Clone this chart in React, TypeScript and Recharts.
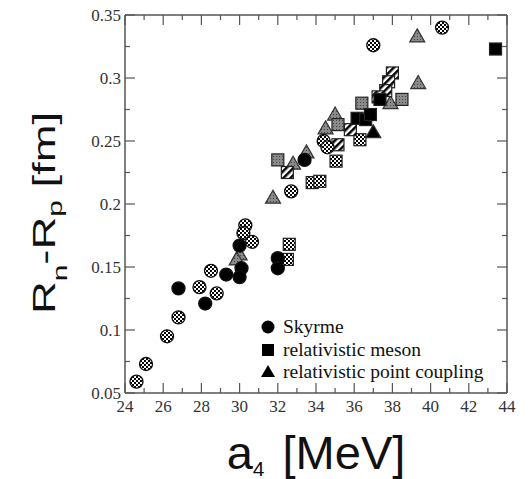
import React from 'react';
import { ScatterChart, Scatter, XAxis, YAxis, Legend, Label } from 'recharts';

const xTicks = [24, 25, 26, 27, 28, 29, 30, 31, 32, 33, 34, 35, 36, 37, 38, 39, 40, 41, 42, 43, 44];
const yTicks = [0.05, 0.075, 0.1, 0.125, 0.15, 0.175, 0.2, 0.225, 0.25, 0.275, 0.3, 0.325, 0.35];
const yTickLabels: Record<string, string> = {
  '0.05': '0.05', '0.1': '0.1', '0.15': '0.15', '0.2': '0.2', '0.25': '0.25', '0.3': '0.3', '0.35': '0.35',
};

// Skyrme
const skyrmeChecked = [
  { a4: 24.6, dr: 0.059 }, { a4: 25.1, dr: 0.073 }, { a4: 26.2, dr: 0.095 }, { a4: 26.8, dr: 0.11 },
  { a4: 27.9, dr: 0.134 }, { a4: 28.5, dr: 0.147 }, { a4: 28.8, dr: 0.129 }, { a4: 30.3, dr: 0.183 },
  { a4: 30.2, dr: 0.177 }, { a4: 30.65, dr: 0.17 }, { a4: 32.7, dr: 0.21 }, { a4: 34.4, dr: 0.25 },
  { a4: 34.6, dr: 0.245 }, { a4: 37.0, dr: 0.326 }, { a4: 40.6, dr: 0.34 },
];
const skyrmeSolid = [
  { a4: 26.8, dr: 0.133 }, { a4: 28.2, dr: 0.121 }, { a4: 29.3, dr: 0.144 }, { a4: 30.0, dr: 0.167 },
  { a4: 30.1, dr: 0.149 }, { a4: 30.0, dr: 0.142 }, { a4: 32.0, dr: 0.157 }, { a4: 32.0, dr: 0.149 },
  { a4: 33.4, dr: 0.235 },
];

// relativistic meson
const mesonGrey = [
  { a4: 32.0, dr: 0.235 }, { a4: 35.15, dr: 0.263 }, { a4: 36.4, dr: 0.28 }, { a4: 38.5, dr: 0.283 },
];
const mesonChecked = [
  { a4: 33.8, dr: 0.217 }, { a4: 34.2, dr: 0.218 }, { a4: 32.6, dr: 0.168 }, { a4: 32.5, dr: 0.156 },
  { a4: 35.05, dr: 0.234 }, { a4: 36.3, dr: 0.251 },
];
const mesonHatched = [
  { a4: 38.0, dr: 0.304 }, { a4: 37.8, dr: 0.297 }, { a4: 37.65, dr: 0.29 }, { a4: 37.25, dr: 0.285 },
  { a4: 35.15, dr: 0.247 }, { a4: 35.8, dr: 0.259 }, { a4: 32.5, dr: 0.225 },
];
const mesonSolid = [
  { a4: 43.4, dr: 0.323 }, { a4: 36.15, dr: 0.268 }, { a4: 36.6, dr: 0.267 }, { a4: 36.85, dr: 0.271 },
  { a4: 37.35, dr: 0.283 },
];

// relativistic point coupling
const pcGrey = [
  { a4: 39.3, dr: 0.333 }, { a4: 39.35, dr: 0.296 }, { a4: 37.9, dr: 0.28 }, { a4: 35.0, dr: 0.271 },
  { a4: 34.5, dr: 0.26 }, { a4: 33.5, dr: 0.241 }, { a4: 32.8, dr: 0.232 }, { a4: 31.75, dr: 0.205 },
  { a4: 30.0, dr: 0.16 }, { a4: 29.85, dr: 0.156 },
];
const pcSolid = [{ a4: 37.0, dr: 0.257 }];

const legendItems = ['Skyrme', 'relativistic meson', 'relativistic point coupling'];

const FRAME = '#555';
const serif = '"Liberation Serif", "Times New Roman", serif';
const sans = '"Liberation Sans", Arial, sans-serif';

const circle = (fill: string) => (p: any) => (
  <circle cx={p.cx} cy={p.cy} r={6.5} fill={fill} stroke="#111" strokeWidth={1.3} />
);
const square = (fill: string) => (p: any) => (
  <rect x={p.cx - 6} y={p.cy - 6} width={12} height={12} fill={fill} stroke="#222" strokeWidth={1.2} />
);
const triangle = (fill: string) => (p: any) => (
  <path d={`M${p.cx},${p.cy - 7.5}L${p.cx + 7.5},${p.cy + 5.5}L${p.cx - 7.5},${p.cy + 5.5}Z`} fill={fill} stroke="#333" strokeWidth={1.2} />
);

const BottomTick = (p: any) => {
  const v = p.payload.value;
  const major = v % 2 === 0;
  return (
    <g>
      <line x1={p.x} x2={p.x} y1={p.y} y2={p.y - (major ? 10 : 5)} stroke={FRAME} strokeWidth={1.2} />
      {major && (
        <text x={p.x} y={p.y + 19} textAnchor="middle" fontFamily={serif} fontSize={17} fill="#333">{v}</text>
      )}
    </g>
  );
};
const TopTick = (p: any) => {
  const major = p.payload.value % 2 === 0;
  return <line x1={p.x} x2={p.x} y1={p.y} y2={p.y + (major ? 10 : 5)} stroke={FRAME} strokeWidth={1.2} />;
};
const LeftTick = (p: any) => {
  const label = yTickLabels[String(p.payload.value)];
  return (
    <g>
      <line x1={p.x} x2={p.x + (label ? 10 : 5)} y1={p.y} y2={p.y} stroke={FRAME} strokeWidth={1.2} />
      {label && (
        <text x={p.x - 4} y={p.y} dy="0.35em" textAnchor="end" fontFamily={serif} fontSize={17} fill="#333">{label}</text>
      )}
    </g>
  );
};
const RightTick = (p: any) => {
  const major = !!yTickLabels[String(p.payload.value)];
  return <line x1={p.x} x2={p.x - (major ? 10 : 5)} y1={p.y} y2={p.y} stroke={FRAME} strokeWidth={1.2} />;
};

const XTitle = (p: any) => {
  const vb = p.viewBox;
  return (
    <text x={vb.x + vb.width / 2} y={vb.y + 76} textAnchor="middle" fontFamily={sans} fontSize={47} fill="#111">
      a<tspan fontSize={21} dy={7}>4</tspan>
      <tspan dy={-7} dx={5}>{' [MeV]'}</tspan>
    </text>
  );
};
const YTitle = (p: any) => {
  const vb = p.viewBox;
  const cx = vb.x + vb.width - 70;
  const cy = vb.y + vb.height / 2 + 9;
  return (
    <text transform={`translate(${cx},${cy}) rotate(-90) scale(1.42,1)`} textAnchor="middle" fontFamily={sans} fontSize={32} fill="#111">
      R<tspan fontSize={21} dy={12}>n</tspan>
      <tspan dy={-12}>-R</tspan>
      <tspan fontSize={21} dy={7}>p</tspan>
      <tspan dy={-7}>{' [fm]'}</tspan>
    </text>
  );
};

const legendSymbol = (i: number) => {
  if (i === 0) return <circle cx={7} cy={7} r={6.5} fill="#000" />;
  if (i === 1) return <rect x={1} y={1} width={12} height={12} fill="#000" />;
  return <path d="M7,0L14,12L0,12Z" fill="#000" />;
};
const LegendBox = () => (
  <div style={{ fontFamily: serif, fontSize: 19.5, color: '#111' }}>
    {legendItems.map((name, i) => (
      <div key={name} style={{ display: 'flex', alignItems: 'center', height: 22.5, whiteSpace: 'nowrap' }}>
        <svg width={14} height={14} style={{ marginRight: 8 }}>{legendSymbol(i)}</svg>
        <span>{name}</span>
      </div>
    ))}
  </div>
);

export default function App() {
  return (
    <div style={{ position: 'absolute', left: 0, top: 0, width: 528, height: 479, background: '#fff' }}>
      <ScatterChart width={528} height={479} margin={{ top: 14, right: 20, bottom: 85, left: 124 }}>
        <defs>
          <pattern id="checker" width={4} height={4} patternUnits="userSpaceOnUse">
            <rect width={4} height={4} fill="#fff" />
            <rect width={2} height={2} fill="#000" />
            <rect x={2} y={2} width={2} height={2} fill="#000" />
          </pattern>
          <pattern id="stipple" width={3} height={3} patternUnits="userSpaceOnUse">
            <rect width={3} height={3} fill="#8a8a8a" />
            <rect width={1} height={1} fill="#444" />
          </pattern>
          <pattern id="hatch" width={5} height={5} patternUnits="userSpaceOnUse" patternTransform="rotate(45)">
            <rect width={5} height={5} fill="#fff" />
            <rect width={2.5} height={5} fill="#000" />
          </pattern>
        </defs>
        <XAxis xAxisId="b" dataKey="a4" type="number" domain={[24, 44]} ticks={xTicks} interval={0} height={1}
          tickSize={0} tickMargin={0} tickLine={false} tick={BottomTick} stroke={FRAME} strokeWidth={1.5} allowDataOverflow>
          <Label content={XTitle} />
        </XAxis>
        <XAxis xAxisId="t" orientation="top" dataKey="a4" type="number" domain={[24, 44]} ticks={xTicks} interval={0} height={1}
          tickSize={0} tickMargin={0} tickLine={false} tick={TopTick} stroke={FRAME} strokeWidth={1.5} allowDataOverflow />
        <YAxis yAxisId="l" dataKey="dr" type="number" domain={[0.05, 0.35]} ticks={yTicks} interval={0} width={1}
          tickSize={0} tickMargin={0} tickLine={false} tick={LeftTick} stroke={FRAME} strokeWidth={1.5} allowDataOverflow>
          <Label content={YTitle} />
        </YAxis>
        <YAxis yAxisId="r" orientation="right" dataKey="dr" type="number" domain={[0.05, 0.35]} ticks={yTicks} interval={0} width={1}
          tickSize={0} tickMargin={0} tickLine={false} tick={RightTick} stroke={FRAME} strokeWidth={1.5} allowDataOverflow />
        <Scatter xAxisId="b" yAxisId="l" data={pcGrey} shape={triangle('url(#stipple)')} isAnimationActive={false} />
        <Scatter xAxisId="b" yAxisId="l" data={mesonChecked} shape={square('url(#checker)')} isAnimationActive={false} />
        <Scatter xAxisId="b" yAxisId="l" data={mesonGrey} shape={square('url(#stipple)')} isAnimationActive={false} />
        <Scatter xAxisId="b" yAxisId="l" data={mesonHatched} shape={square('url(#hatch)')} isAnimationActive={false} />
        <Scatter xAxisId="b" yAxisId="l" data={mesonSolid} shape={square('#000')} isAnimationActive={false} />
        <Scatter xAxisId="b" yAxisId="l" data={pcSolid} shape={triangle('#000')} isAnimationActive={false} />
        <Scatter xAxisId="b" yAxisId="l" data={skyrmeChecked} shape={circle('url(#checker)')} isAnimationActive={false} />
        <Scatter xAxisId="b" yAxisId="l" data={skyrmeSolid} shape={circle('#000')} isAnimationActive={false} />
        <Legend content={LegendBox} layout="vertical" verticalAlign="middle" align="center"
          wrapperStyle={{ left: 261, top: 316, width: 250 }} />
      </ScatterChart>
    </div>
  );
}
